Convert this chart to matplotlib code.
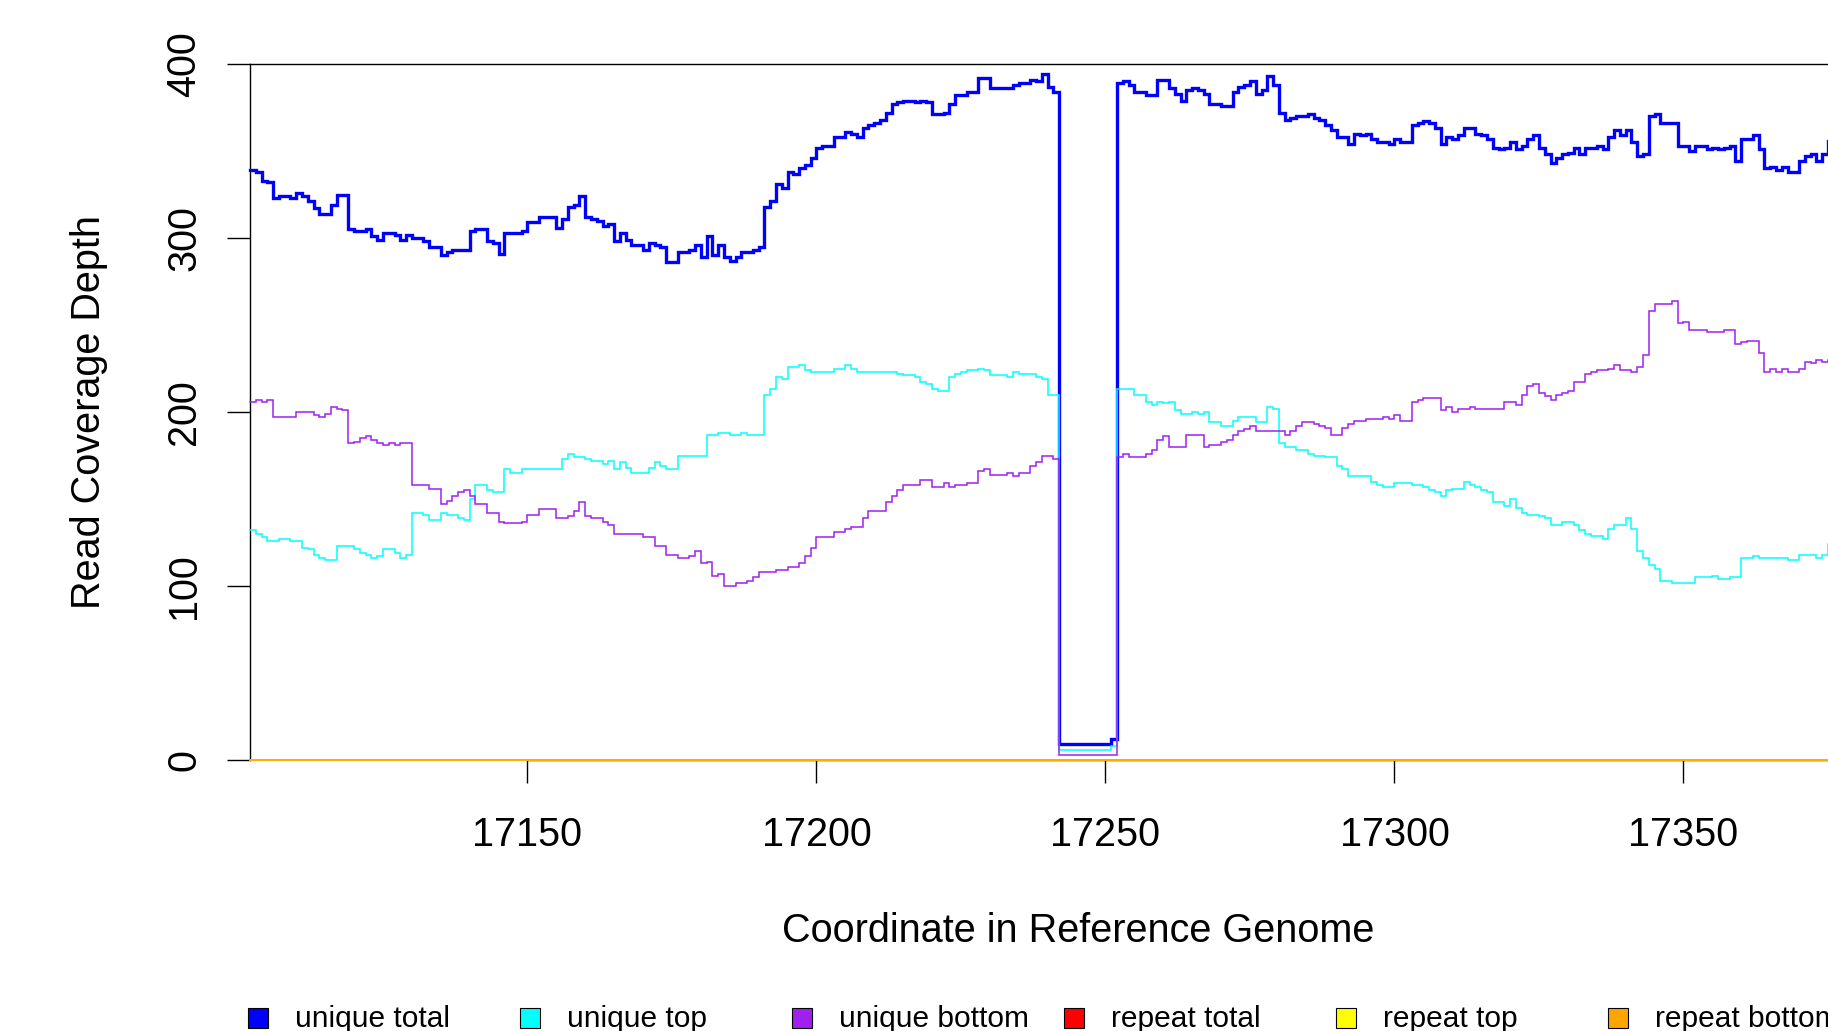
import matplotlib
matplotlib.use("Agg")
import matplotlib.pyplot as plt
from matplotlib.patches import Rectangle

plt.rcParams['font.family'] = ['Liberation Sans', 'DejaVu Sans']

# step breakpoints (coordinate where a new depth value starts) and depth values
total_pos = [17102, 17103, 17104, 17105, 17106, 17107, 17109, 17110, 17111, 17112, 17113, 17114, 17116, 17117,
             17119, 17120, 17122, 17123, 17124, 17125, 17127, 17128, 17129, 17130, 17132, 17133, 17135, 17136,
             17137, 17140, 17141, 17143, 17144, 17145, 17146, 17149, 17150, 17152, 17155, 17156, 17157, 17158,
             17159, 17160, 17161, 17162, 17163, 17164, 17165, 17166, 17167, 17168, 17170, 17171, 17172, 17173,
             17174, 17176, 17178, 17179, 17180, 17181, 17182, 17183, 17184, 17185, 17186, 17187, 17189, 17190,
             17191, 17192, 17193, 17194, 17195, 17196, 17197, 17198, 17199, 17200, 17201, 17203, 17205, 17206,
             17207, 17208, 17209, 17210, 17211, 17212, 17213, 17214, 17215, 17217, 17218, 17219, 17220, 17222,
             17223, 17224, 17226, 17228, 17230, 17234, 17235, 17237, 17238, 17239, 17240, 17241, 17242, 17251,
             17252, 17253, 17254, 17255, 17257, 17259, 17261, 17262, 17263, 17264, 17265, 17266, 17267, 17268,
             17270, 17272, 17273, 17274, 17275, 17276, 17277, 17278, 17279, 17280, 17281, 17282, 17283, 17285,
             17286, 17287, 17288, 17289, 17290, 17292, 17293, 17294, 17295, 17296, 17297, 17299, 17300, 17301,
             17303, 17304, 17305, 17306, 17307, 17308, 17309, 17310, 17311, 17312, 17314, 17315, 17316, 17317,
             17318, 17319, 17320, 17321, 17322, 17323, 17324, 17325, 17326, 17327, 17328, 17329, 17330, 17331,
             17332, 17333, 17335, 17336, 17337, 17338, 17339, 17340, 17341, 17342, 17343, 17344, 17345, 17346,
             17349, 17351, 17352, 17354, 17355, 17356, 17357, 17358, 17359, 17360, 17362, 17363, 17364, 17365,
             17366, 17367, 17368, 17370, 17371, 17372, 17373, 17374, 17375]
total_val = [339, 338, 333, 332, 323, 324, 323, 326, 324, 321, 317, 314, 319, 325,
             305, 304, 305, 301, 299, 303, 302, 299, 302, 300, 298, 295, 290, 292,
             293, 304, 305, 298, 297, 291, 303, 304, 309, 312, 306, 311, 318, 319,
             324, 312, 311, 310, 307, 308, 298, 303, 299, 296, 293, 297, 296, 295,
             286, 292, 293, 296, 289, 301, 290, 296, 289, 287, 289, 292, 293, 295,
             318, 321, 331, 329, 338, 337, 340, 342, 346, 352, 353, 358, 361, 360,
             358, 363, 365, 366, 368, 372, 377, 378, 379, 378, 379, 378, 371, 372,
             377, 382, 384, 392, 386, 388, 389, 391, 390, 394, 387, 384, 9, 12,
             389, 390, 388, 384, 382, 391, 386, 383, 379, 385, 386, 385, 383, 377,
             376, 384, 387, 388, 390, 383, 385, 393, 388, 372, 368, 369, 370, 371,
             369, 368, 365, 362, 358, 354, 360, 359, 360, 357, 355, 354, 357, 355,
             365, 366, 367, 366, 363, 354, 358, 357, 359, 363, 360, 359, 357, 352,
             351, 352, 355, 351, 353, 357, 359, 352, 348, 343, 346, 348, 349, 352,
             348, 352, 353, 351, 358, 362, 359, 362, 355, 347, 348, 370, 371, 366,
             353, 350, 353, 351, 352, 351, 352, 353, 344, 357, 359, 351, 340, 341,
             339, 341, 338, 344, 347, 348, 344, 348, 356]

top_pos = [17102, 17103, 17104, 17105, 17107, 17109, 17111, 17112, 17113, 17114, 17115, 17117, 17120, 17121,
           17122, 17123, 17124, 17125, 17127, 17128, 17129, 17130, 17132, 17133, 17135, 17136, 17138, 17139,
           17140, 17141, 17143, 17144, 17146, 17147, 17149, 17156, 17157, 17158, 17160, 17161, 17163, 17164,
           17165, 17166, 17167, 17168, 17171, 17172, 17173, 17174, 17176, 17181, 17183, 17185, 17187, 17188,
           17191, 17192, 17193, 17194, 17195, 17197, 17198, 17199, 17203, 17205, 17206, 17207, 17214, 17215,
           17217, 17218, 17219, 17220, 17221, 17223, 17224, 17225, 17226, 17228, 17229, 17230, 17233, 17234,
           17235, 17238, 17239, 17240, 17242, 17251, 17252, 17255, 17257, 17258, 17259, 17260, 17261, 17262,
           17263, 17265, 17266, 17267, 17268, 17270, 17272, 17273, 17276, 17278, 17279, 17280, 17281, 17283,
           17285, 17286, 17288, 17290, 17291, 17292, 17296, 17297, 17298, 17300, 17303, 17305, 17306, 17307,
           17308, 17309, 17310, 17312, 17313, 17314, 17315, 17316, 17317, 17319, 17320, 17321, 17322, 17323,
           17325, 17326, 17327, 17329, 17331, 17332, 17333, 17334, 17336, 17337, 17338, 17340, 17341, 17342,
           17343, 17344, 17345, 17346, 17348, 17352, 17355, 17356, 17358, 17360, 17362, 17363, 17368, 17370,
           17373, 17374, 17375]
top_val = [132, 130, 128, 126, 127, 126, 122, 121, 118, 116, 115, 123, 121, 119,
           118, 116, 117, 121, 119, 116, 118, 142, 141, 138, 142, 141, 139, 138,
           150, 158, 155, 154, 167, 165, 167, 173, 176, 174, 173, 172, 170, 172,
           167, 171, 168, 165, 168, 171, 169, 167, 175, 187, 188, 187, 188, 187,
           210, 213, 220, 219, 226, 227, 224, 223, 225, 227, 225, 223, 222, 221,
           220, 217, 216, 213, 212, 220, 222, 223, 224, 225, 224, 221, 220, 223,
           222, 220, 219, 210, 6, 8, 213, 210, 206, 204, 206, 205, 206, 201,
           199, 200, 199, 200, 194, 192, 195, 197, 194, 203, 202, 182, 180, 178,
           176, 175, 174, 169, 167, 163, 160, 158, 157, 159, 158, 157, 155, 154,
           152, 155, 156, 160, 158, 157, 155, 154, 148, 146, 150, 145, 142, 141,
           140, 139, 135, 137, 135, 132, 130, 129, 127, 133, 135, 139, 133, 120,
           116, 112, 110, 103, 102, 105, 106, 104, 105, 116, 117, 116, 115, 118,
           116, 118, 124]

bottom_pos = [17102, 17103, 17104, 17105, 17106, 17110, 17113, 17114, 17115, 17116, 17117, 17118, 17119, 17120,
              17121, 17122, 17123, 17124, 17125, 17126, 17127, 17128, 17130, 17133, 17135, 17136, 17137, 17138,
              17139, 17140, 17141, 17143, 17145, 17146, 17149, 17150, 17152, 17155, 17157, 17158, 17159, 17160,
              17161, 17163, 17164, 17165, 17170, 17172, 17174, 17176, 17178, 17179, 17180, 17181, 17182, 17183,
              17184, 17186, 17188, 17189, 17190, 17193, 17195, 17197, 17198, 17199, 17200, 17203, 17205, 17206,
              17208, 17209, 17212, 17213, 17214, 17215, 17218, 17220, 17222, 17223, 17224, 17226, 17228, 17229,
              17230, 17233, 17234, 17235, 17237, 17238, 17239, 17241, 17242, 17252, 17253, 17254, 17257, 17258,
              17259, 17260, 17261, 17264, 17267, 17268, 17270, 17271, 17272, 17273, 17274, 17275, 17276, 17281,
              17282, 17283, 17284, 17285, 17286, 17287, 17288, 17289, 17291, 17292, 17293, 17295, 17298, 17299,
              17300, 17301, 17303, 17304, 17305, 17308, 17309, 17310, 17311, 17313, 17314, 17319, 17321, 17322,
              17323, 17324, 17325, 17326, 17327, 17328, 17329, 17330, 17331, 17333, 17334, 17335, 17337, 17338,
              17339, 17341, 17342, 17343, 17344, 17345, 17346, 17348, 17349, 17350, 17351, 17354, 17357, 17359,
              17360, 17361, 17363, 17364, 17365, 17366, 17367, 17368, 17370, 17371, 17372, 17373, 17374, 17375]
bottom_val = [206, 207, 206, 207, 197, 200, 198, 197, 199, 203, 202, 201, 182, 183,
              185, 186, 184, 182, 181, 182, 181, 182, 158, 156, 147, 149, 152, 154,
              155, 152, 147, 142, 137, 136, 137, 141, 144, 139, 140, 143, 148, 140,
              139, 137, 135, 130, 128, 123, 118, 116, 117, 120, 113, 114, 106, 107,
              100, 102, 103, 105, 108, 109, 111, 113, 117, 122, 128, 131, 133, 134,
              139, 143, 148, 152, 155, 158, 161, 157, 159, 157, 158, 159, 166, 167,
              164, 165, 163, 165, 169, 171, 175, 173, 3, 174, 176, 174, 176, 178,
              184, 186, 180, 187, 180, 181, 183, 184, 187, 189, 190, 192, 189, 187,
              189, 192, 194, 194.5, 193, 192, 191, 187, 191, 193, 195, 196, 197, 196,
              198, 195, 206, 207, 208, 201, 203, 200, 202, 203, 202, 206, 204, 210,
              215, 216, 211, 209, 207, 210, 211, 212, 217, 222, 223, 224, 225, 227,
              224, 223, 226, 233, 258, 262, 262, 264, 251, 252, 247, 246, 247, 239,
              240, 241, 234, 223, 225, 223, 225, 223, 225, 229, 228, 230, 229, 230]

# repeat reads: none in this window
repeat_pos = [17102]
repeat_total = [0]
repeat_top = [0]
repeat_bottom = [0]

series_names = ['unique total', 'unique top', 'unique bottom', 'repeat total', 'repeat top', 'repeat bottom']
series_colors = ['#0000FF', '#00FFFF', '#A020F0', '#FF0000', '#FFFF00', '#FFA500']

x_last = 17377

fig = plt.figure(figsize=(18.28, 10.31), dpi=100)
W, H = 1828, 1031
ax = fig.add_axes([250 / W, 1 - 760 / H, (1906 - 250) / W, (760 - 64) / H])


def draw(pos, val, color, lw):
    ax.step(pos + [x_last], val + [val[-1]], where='post', color=color, lw=lw,
            solid_joinstyle='miter', clip_on=False, zorder=3)


draw(total_pos, total_val, series_colors[0], 2.4)
draw(top_pos, top_val, series_colors[1], 1.1)
draw(bottom_pos, bottom_val, series_colors[2], 1.1)
draw(repeat_pos, repeat_total, series_colors[3], 1.1)
draw(repeat_pos, repeat_top, series_colors[4], 1.1)
draw(repeat_pos, repeat_bottom, series_colors[5], 1.1)

ax.set_xlim(17102, 17388.5)
ax.set_ylim(0, 400)
ax.set_xticks([17150, 17200, 17250, 17300, 17350])
ax.set_yticks([0, 100, 200, 300, 400])
ax.spines['right'].set_visible(False)
ax.spines['bottom'].set_bounds(17150, 17388.5)
for s in ['left', 'top', 'bottom']:
    ax.spines[s].set_linewidth(1.0)
ax.tick_params(axis='both', length=16.5, width=1.0, labelsize=28.5)
ax.tick_params(axis='x', pad=24)
ax.tick_params(axis='y', pad=17)
plt.setp(ax.get_yticklabels(), rotation=90, va='center', ha='right')

fig.text(89 / W, 1 - 412 / H, 'Read Coverage Depth', rotation=90, ha='center', va='center', fontsize=28.5)
fig.text(1078 / W, 1 - 931 / H, 'Coordinate in Reference Genome', ha='center', va='center', fontsize=28.5)

# legend along the bottom edge, equal spacing like the original
for i, (name, col) in enumerate(zip(series_names, series_colors)):
    cx = 258 + i * 272
    fig.add_artist(Rectangle(((cx - 10) / W, 1 - (1018 + 10) / H), 20 / W, 20 / H,
                             facecolor=col, edgecolor='black', lw=0.8, transform=fig.transFigure))
    fig.text((cx + 37) / W, 1 - 1019 / H, name, ha='left', va='center', fontsize=21.5)

fig.savefig('out.png', dpi=100)
